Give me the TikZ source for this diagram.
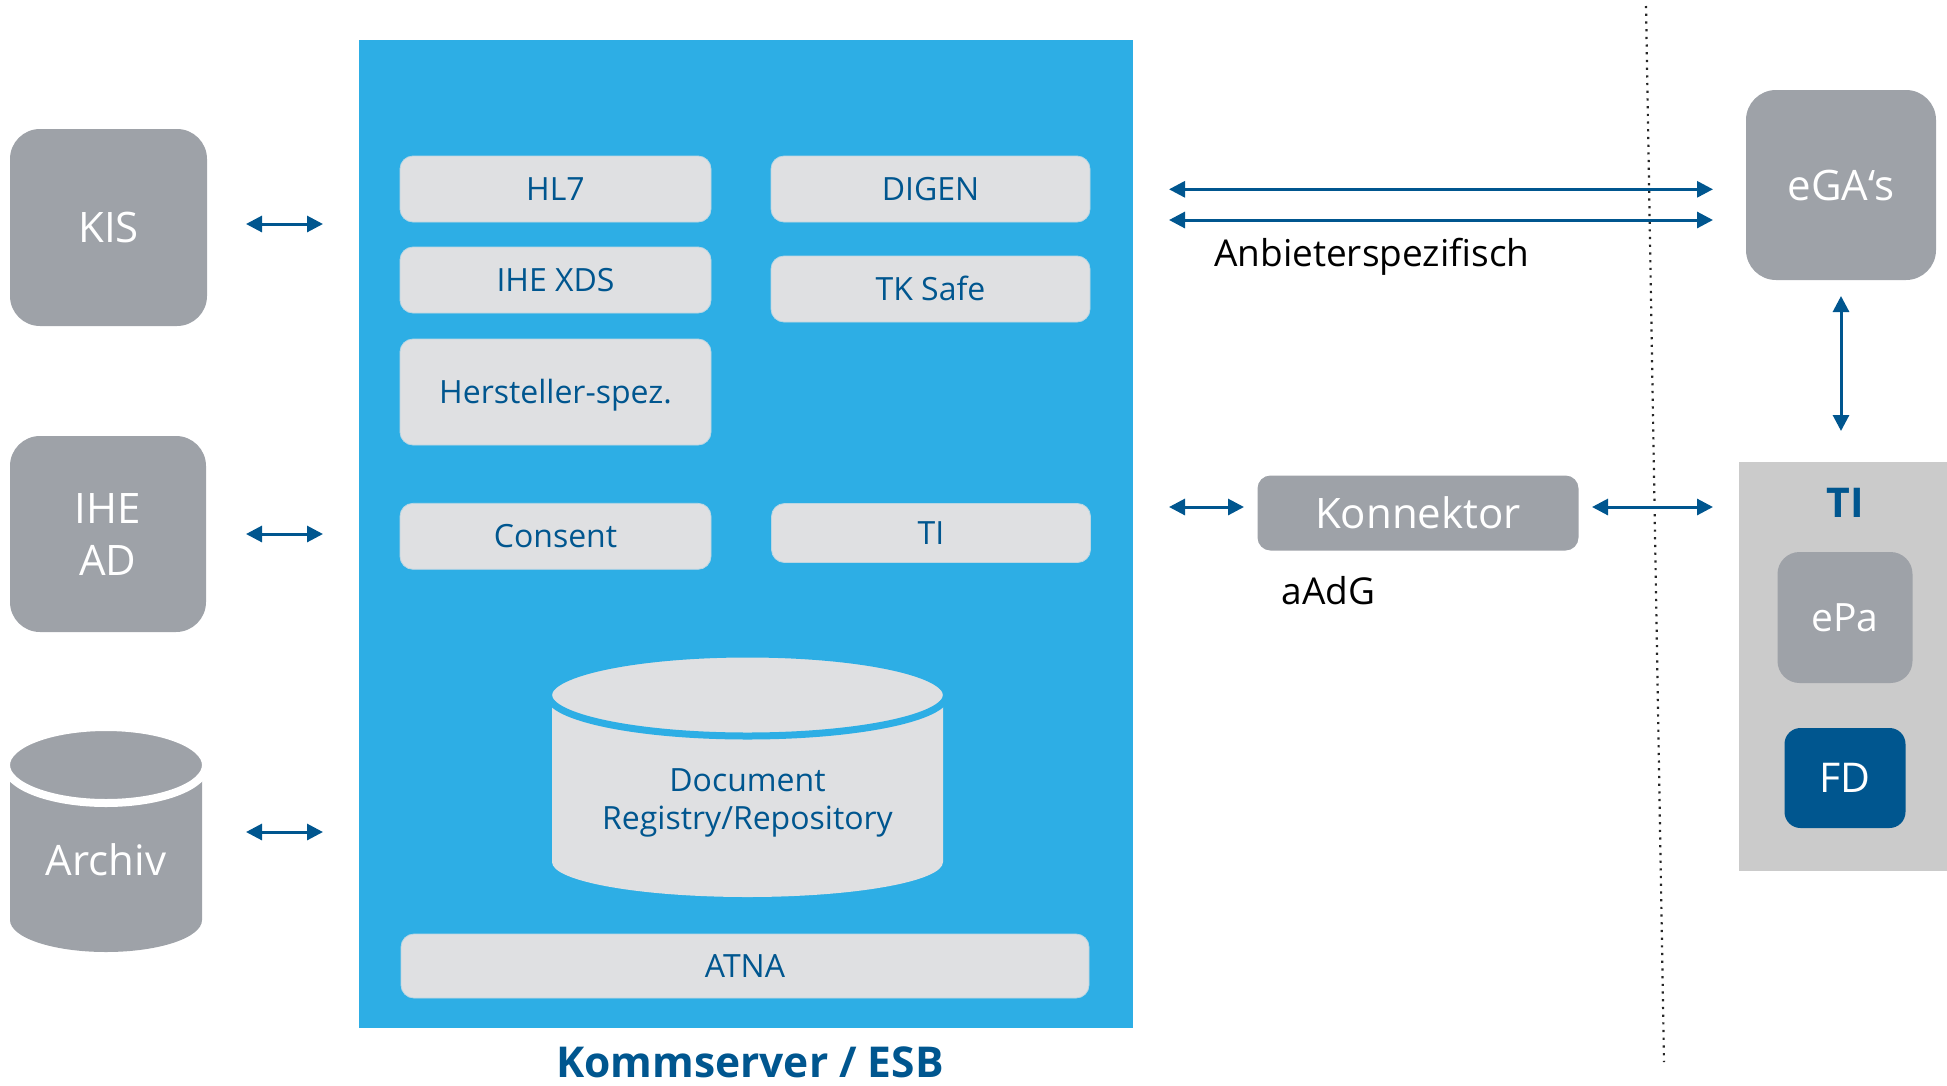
\documentclass[tikz,border=0pt]{standalone}
\usepackage{fontspec}
\setmainfont{Open Sans}
\usetikzlibrary{arrows.meta}
\definecolor{boxgray}{HTML}{9EA2A8}
\definecolor{lightbox}{HTML}{DFE0E2}
\definecolor{esbblue}{HTML}{2DAEE5}
\definecolor{darkblue}{HTML}{00568F}
\definecolor{tigray}{HTML}{CBCBCB}
\begin{document}
\begin{tikzpicture}[x=1pt,y=-1pt,
  graybig/.style={fill=boxgray, rounded corners=30pt, text=white, inner sep=0pt, align=center,
    font=\fontsize{42}{52}\selectfont},
  capbig/.style={text height=30pt, text depth=0pt},
  innerbox/.style={fill=lightbox, draw=lightbox!80!esbblue, line width=0.8pt, rounded corners=13pt, text=darkblue, inner sep=0pt,
    font=\fontsize{32}{38}\selectfont, text height=22.8pt, text depth=0pt},
  conn/.style={draw=darkblue, line width=3pt, {Triangle[length=16pt,width=16pt]}-{Triangle[length=16pt,width=16pt]}},
  plain/.style={inner sep=0pt, font=\fontsize{37}{44}\selectfont, text=black}
]
\useasboundingbox (0,0) rectangle (1947,1085);

% left systems
\node[graybig, capbig, minimum width=197pt, minimum height=197pt] (kis) at (108.5,227.5) {KIS};
\node[graybig, minimum width=196pt, minimum height=196pt] (ihead) at (108,534) {IHE\\AD};

% Archiv cylinder
\fill[boxgray] (10,775) -- (10,920) arc[start angle=180, end angle=360, x radius=96pt, y radius=32pt] -- (202,775) -- cycle;
\draw[white, line width=8pt, fill=boxgray] (106,765) ellipse[x radius=100pt, y radius=38pt];
\node[inner sep=0pt, text=white, font=\fontsize{42}{52}\selectfont, text height=30pt, text depth=0pt] (archiv) at (106,860) {Archiv};

% left arrows
\coordinate (a1l) at (246,224); \coordinate (a1r) at (323,224);
\coordinate (a2l) at (246,534); \coordinate (a2r) at (323,534);
\coordinate (a3l) at (246,832); \coordinate (a3r) at (323,832);
\draw[conn] (a1l) -- (a1r);
\draw[conn] (a2l) -- (a2r);
\draw[conn] (a3l) -- (a3r);

% ESB
\node[fill=esbblue, minimum width=774pt, minimum height=988pt, inner sep=0pt] (esb) at (746,534) {};
\node[innerbox, minimum width=311pt, minimum height=66pt] (hl7) at (555.5,189) {HL7};
\node[innerbox, minimum width=319pt, minimum height=66pt] (digen) at (930.5,189) {DIGEN};
\node[innerbox, minimum width=311pt, minimum height=66pt] (xds) at (555.5,280) {IHE XDS};
\node[innerbox, minimum width=319pt, minimum height=66pt] (tksafe) at (930.5,289) {TK Safe};
\node[innerbox, minimum width=311pt, minimum height=106pt] (herst) at (555.5,392) {Hersteller-spez.};
\node[innerbox, minimum width=311pt, minimum height=66pt] (consent) at (555.5,536.3) {Consent};
\node[innerbox, minimum width=319pt, minimum height=59pt] (tiin) at (931,533) {TI};
\node[innerbox, minimum width=688pt, minimum height=64pt] (atna) at (745,966) {ATNA};

% Document cylinder
\fill[lightbox] (552,705) -- (552,862) arc[start angle=180, end angle=360, x radius=195.5pt, y radius=35pt] -- (943,705) -- cycle;
\draw[esbblue, line width=7pt, fill=lightbox] (747.5,695) ellipse[x radius=199pt, y radius=41pt];
\node[anchor=north, inner sep=0pt, align=center, text=darkblue, font=\fontsize{32}{38}\selectfont] (doc) at (747.5,768.5) {Document\\Registry/Repository};

\node[anchor=base, inner sep=0pt, text=darkblue, font=\fontsize{42.5}{50}\selectfont\bfseries] (esblabel) at (750,1077) {Kommserver / ESB};

% right part
\node[fill=tigray, minimum width=208pt, minimum height=409pt, inner sep=0pt] (tiarea) at (1843,666.5) {};
\node[anchor=base, inner sep=0pt, text=darkblue, font=\fontsize{41}{48}\selectfont\bfseries] (tilabel) at (1845,517.7) {TI};
\node[fill=boxgray, rounded corners=22pt, text=white, inner sep=0pt, minimum width=135pt, minimum height=131pt,
  font=\fontsize{39}{46}\selectfont, text height=27.8pt, text depth=0pt] (epa) at (1845,617.5) {ePa};
\node[fill=darkblue, rounded corners=16pt, text=white, inner sep=0pt, minimum width=121pt, minimum height=100pt,
  font=\fontsize{41}{48}\selectfont, text height=29.3pt, text depth=0pt] (fd) at (1845,778) {FD};

\node[graybig, capbig, minimum width=190pt, minimum height=190pt] (ega) at (1841,185) {eGA‘s};

\node[fill=boxgray, rounded corners=13pt, text=white, inner sep=0pt, minimum width=321pt, minimum height=75pt,
  font=\fontsize{42}{52}\selectfont, text height=30pt, text depth=0pt] (konn) at (1418,513) {Konnektor};

\node[plain, anchor=base west] (anb) at (1214,266.7) {Anbieterspezifisch};
\node[plain, anchor=base west] (aadg) at (1281.6,604) {aAdG};

% dotted divider
\coordinate (dtop) at (1646,6); \coordinate (dbot) at (1664,1062);
\draw[black!85, line width=2.2pt, dash pattern=on 2.2pt off 5.5pt] (dtop) -- (dbot);

% right arrows
\coordinate (t1l) at (1169,189.3); \coordinate (t1r) at (1713,189.3);
\coordinate (t2l) at (1169,220); \coordinate (t2r) at (1713,220);
\draw[conn] (t1l) -- (t1r);
\draw[conn] (t2l) -- (t2r);
\coordinate (vtop) at (1841,296); \coordinate (vbot) at (1841,431);
\draw[conn] (vtop) -- (vbot);
\coordinate (k1l) at (1169,507); \coordinate (k1r) at (1244,507);
\coordinate (k2l) at (1592,507); \coordinate (k2r) at (1713,507);
\draw[conn] (k1l) -- (k1r);
\draw[conn] (k2l) -- (k2r);
\end{tikzpicture}
\end{document}
